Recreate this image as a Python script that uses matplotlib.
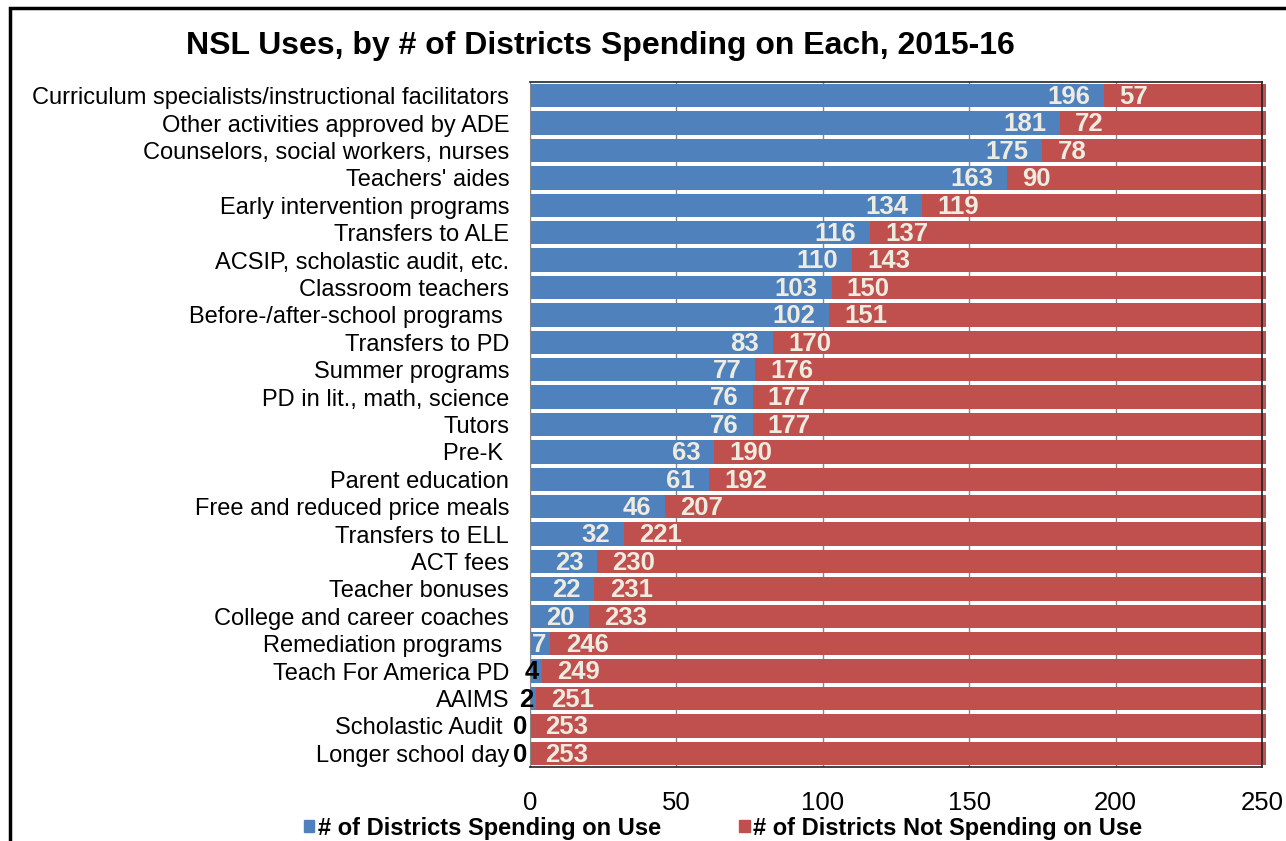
import matplotlib.pyplot as plt
import matplotlib.patches as mpatches
import numpy as np

plt.rcParams['font.family'] = ['Liberation Sans', 'DejaVu Sans']

uses = ["Curriculum specialists/instructional facilitators", "Other activities approved by ADE",
        "Counselors, social workers, nurses", "Teachers' aides", "Early intervention programs",
        "Transfers to ALE", "ACSIP, scholastic audit, etc.", "Classroom teachers",
        "Before-/after-school programs ", "Transfers to PD", "Summer programs",
        "PD in lit., math, science", "Tutors", "Pre-K ", "Parent education",
        "Free and reduced price meals", "Transfers to ELL", "ACT fees", "Teacher bonuses",
        "College and career coaches", "Remediation programs ", "Teach For America PD",
        "AAIMS", "Scholastic Audit ", "Longer school day"]
spending = [196, 181, 175, 163, 134, 116, 110, 103, 102, 83, 77, 76, 76, 63, 61,
            46, 32, 23, 22, 20, 7, 4, 2, 0, 0]
not_spending = [57, 72, 78, 90, 119, 137, 143, 150, 151, 170, 176, 177, 177, 190, 192,
                207, 221, 230, 231, 233, 246, 249, 251, 253, 253]
xticks = [0, 50, 100, 150, 200, 250]

blue = '#4F81BD'
red = '#C0504D'
lbl = '#EEECE1'

fig = plt.figure(figsize=(12.86, 8.41), dpi=100)
ax = fig.add_axes([530 / 1286, 1 - 767 / 841, 732 / 1286, 685 / 841])

y = np.arange(len(uses))
h = 0.86
ax.barh(y, spending, height=h, color=blue, zorder=2)
reds = ax.barh(y, not_spending, left=spending, height=h, color=red, zorder=2)
# red bars run a few pixels past the right edge of the plot
clip = mpatches.Rectangle((0, -0.02), 1.005, 1.04, transform=ax.transAxes, visible=False)
ax.add_patch(clip)
for r in reds:
    r.set_clip_path(clip)

vfs = 18.5
for i, (s, n) in enumerate(zip(spending, not_spending)):
    if s >= 10:
        ax.annotate(str(s), (s, i), xytext=(-10, -1), textcoords='offset points',
                    ha='right', va='center', color=lbl, fontsize=vfs, fontweight='bold', zorder=3)
    elif s >= 5:
        ax.annotate(str(s), (0, i), xytext=(1.5, -1), textcoords='offset points',
                    ha='left', va='center', color=lbl, fontsize=vfs, fontweight='bold', zorder=3)
    else:
        ax.annotate(str(s), (s, i), xytext=(-2, -1), textcoords='offset points',
                    ha='right', va='center', color='black', fontsize=vfs, fontweight='bold',
                    zorder=3, annotation_clip=False)
    ax.annotate(str(n), (s, i), xytext=(11, -1), textcoords='offset points',
                ha='left', va='center', color=lbl, fontsize=vfs, fontweight='bold', zorder=3)

ax.set_xlim(0, 250)
ax.set_ylim(len(uses) - 0.5, -0.5)
ax.set_yticks(y)
ax.set_yticklabels(uses, fontsize=17)
ax.set_xticks(xticks)
ax.tick_params(axis='x', labelsize=18.5, length=0, pad=17)
ax.tick_params(axis='y', length=0, pad=15)
ax.grid(axis='x', color='#868686', linewidth=1, zorder=0)
ax.set_axisbelow(True)
for side in ['top', 'right', 'bottom']:
    ax.spines[side].set_color('#222222')
    ax.spines[side].set_linewidth(1.2)
ax.spines['left'].set_color('#868686')

fig.text(600 / 1286, 1 - 46 / 841, "NSL Uses, by # of Districts Spending on Each, 2015-16",
         ha='center', va='center', fontsize=23, fontweight='bold')

handles = [mpatches.Patch(color=blue, label='# of Districts Spending on Use'),
           mpatches.Patch(color=red, label='# of Districts Not Spending on Use')]
fig.legend(handles=handles, loc='center', bbox_to_anchor=(723 / 1286, 1 - 828 / 841), ncol=2,
           frameon=False, prop={'weight': 'bold', 'size': 17},
           handlelength=0.45, handleheight=0.45, handletextpad=0.15, columnspacing=3.3,
           borderpad=0)

fig.patches.append(mpatches.Rectangle((10 / 1286, -0.1), 1.2, 1 - 8 / 841 + 0.1,
                                      transform=fig.transFigure, fill=False,
                                      edgecolor='black', linewidth=2.5))

fig.savefig('out.png', dpi=100)
